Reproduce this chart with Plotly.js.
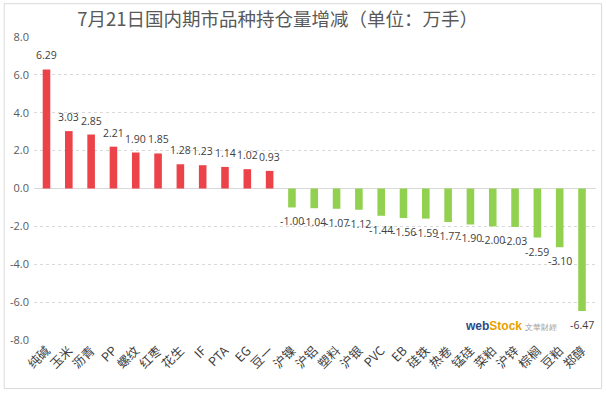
<!DOCTYPE html>
<html><head><meta charset="utf-8">
<script src="https://cdn.plot.ly/plotly-3.0.1.min.js"></script>
<style>html,body{margin:0;padding:0;background:#fff}#chart{width:606px;height:398px}</style>
</head><body><div id="chart"></div>
<script>
const categories = ["纯碱","玉米","沥青","PP","螺纹","红枣","花生","IF","PTA","EG","豆一","沪镍","沪铝","塑料","沪银","PVC","EB","硅铁","热卷","锰硅","菜粕","沪锌","棕榈","豆粕","郑醇"];
const values = [6.29,3.03,2.85,2.21,1.90,1.85,1.28,1.23,1.14,1.02,0.93,-1.00,-1.04,-1.07,-1.12,-1.44,-1.56,-1.59,-1.77,-1.90,-2.00,-2.03,-2.59,-3.10,-6.47];
const yTicks = [-8,-6,-4,-2,0,2,4,6,8];
const titleText = "7月21日国内期市品种持仓量增减（单位：万手）";

const colors = values.map(v => v >= 0 ? "#EC4249" : "#92D050");
const font = "'Noto Sans CJK SC', 'Noto Sans', sans-serif";

const trace = {
  type: "bar", x: categories, y: values,
  marker: {color: colors}, hoverinfo: "none"
};
const annotations = values.map((v, i) => ({
  x: categories[i], y: v, xref: "x", yref: "y",
  text: v.toFixed(2), showarrow: false,
  yshift: v >= 0 ? 14 : -14,
  font: {family: "'Open Sans', sans-serif", size: 10.5, color: "#404040"}
}));
annotations.push({
  xref: "paper", yref: "paper", x: 0.935, y: 0.045, xanchor: "right", yanchor: "middle", showarrow: false,
  text: "<b><span style='color:#2b4a8b'>web</span><span style='color:#e8a000'>Stock</span></b> <span style='color:#999;font-size:8px'>文華財經</span>",
  font: {family: "'Liberation Sans', sans-serif", size: 12}
});
const layout = {
  width: 606, height: 398,
  margin: {l: 34, r: 10, t: 37, b: 58},
  paper_bgcolor: "#fff", plot_bgcolor: "#fff",
  title: {text: titleText, x: 0.458, xanchor: "center", y: 0.95, yanchor: "middle",
          font: {family: font, size: 18.5, color: "#595959"}},
  bargap: 0.66,
  showlegend: false,
  xaxis: {tickangle: -45, tickfont: {family: font, size: 12.5, color: "#404040"},
          showgrid: false, zeroline: false, showline: false, ticks: ""},
  yaxis: {range: [-8, 8], tickvals: yTicks, ticktext: yTicks.map(t => t.toFixed(1)),
          tickfont: {family: "'Open Sans', sans-serif", size: 11, color: "#595959"},
          showgrid: true, gridcolor: "#d9d9d9", griddash: "dot", zeroline: true,
          zerolinecolor: "#d9d9d9", zerolinewidth: 1, ticks: "", ticklabelstandoff: 4},
  annotations: annotations,
  shapes: [{type: "rect", xref: "paper", yref: "paper", x0: -0.053, x1: 1.01, y0: -0.16, y1: 1.11,
            line: {color: "#d9d9d9", width: 1}}]
};
Plotly.newPlot("chart", [trace], layout, {displayModeBar: false, staticPlot: true});
</script></body></html>
